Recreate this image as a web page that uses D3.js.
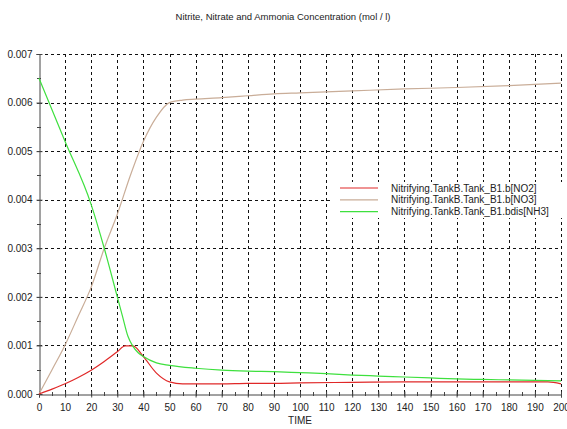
<!DOCTYPE html>
<html>
<head>
<meta charset="utf-8">
<script src="https://cdn.jsdelivr.net/npm/d3@7"></script>
<style>
  body { margin: 0; background: #fff; }
  svg { display: block; font-family: "Liberation Sans", Arial, sans-serif; }
</style>
</head>
<body>
<div id="container"></div>
<script>
/* CONSTANTS AND GLOBALS */
const width = 567,
  height = 429,
  margin = { top: 54, bottom: 35, left: 39, right: 6 };

/* DATA */
const titleText = "Nitrite, Nitrate and Ammonia Concentration (mol / l)";
const xLabel = "TIME";
const seriesNames = [
  "Nitrifying.TankB.Tank_B1.b[NO2]",
  "Nitrifying.TankB.Tank_B1.b[NO3]",
  "Nitrifying.TankB.Tank_B1.bdis[NH3]"
];
const seriesColors = ["#e02828", "#c9ad98", "#3ee03e"];

const no2 = [
  [0, 0], [5, 0.0001], [10, 0.00021], [15, 0.00034], [20, 0.00049], [25, 0.00067],
  [30, 0.00087], [33, 0.00099], [36, 0.00099], [40, 0.00077], [45, 0.00043],
  [50, 0.00025], [55, 0.00021], [60, 0.00021], [70, 0.00021], [80, 0.00022],
  [90, 0.00022], [100, 0.00023], [120, 0.00024], [140, 0.00025], [160, 0.00025],
  [180, 0.00025], [195, 0.00025], [200, 0.00021]
];
const no3 = [
  [0, 0], [5, 0.0005], [10, 0.00101], [15, 0.0016], [20, 0.0022], [25, 0.0030],
  [30, 0.0037], [35, 0.0045], [40, 0.0052], [45, 0.0057], [50, 0.0060],
  [55, 0.00605], [60, 0.00607], [70, 0.0061], [80, 0.00614], [90, 0.00618],
  [100, 0.0062], [120, 0.00624], [140, 0.00628], [160, 0.00631], [180, 0.00635],
  [200, 0.0064]
];
const nh3 = [
  [0, 0.0065], [10, 0.0052], [20, 0.0039], [25, 0.0030], [30, 0.0020],
  [32, 0.0016], [34, 0.0012], [36, 0.00098], [38, 0.00085], [40, 0.00077],
  [45, 0.00064], [50, 0.00059], [60, 0.00053], [70, 0.00049], [80, 0.00047],
  [90, 0.00046], [100, 0.00044], [110, 0.00042], [120, 0.00039], [130, 0.00037],
  [140, 0.00035], [150, 0.00033], [160, 0.00031], [170, 0.0003], [180, 0.00029],
  [190, 0.00028], [200, 0.00027]
];
const seriesData = [no2, no3, nh3];

const xTicks = d3.range(0, 201, 10);
const xMinor = d3.range(0, 201, 5);
const yTicks = d3.range(0, 8).map(d => d / 1000);
const yMinor = d3.range(0, 15).map(d => d / 2000);

/* SCALES */
const xScale = d3.scaleLinear()
  .domain([0, 200])
  .range([margin.left, width - margin.right]);

const yScale = d3.scaleLinear()
  .domain([0, 0.007])
  .range([height - margin.bottom, margin.top]);

/* SVG */
const svg = d3.select("#container")
  .append("svg")
  .attr("width", width)
  .attr("height", height);

svg.append("text")
  .attr("x", 283)
  .attr("y", 20)
  .attr("text-anchor", "middle")
  .attr("font-size", 9.5)
  .attr("fill", "#222")
  .text(titleText);

// grid
const grid = svg.append("g");
grid.selectAll(".hg")
  .data(yTicks.slice(1))
  .join("line")
  .attr("x1", xScale(0)).attr("x2", xScale(200))
  .attr("y1", d => Math.round(yScale(d)) + 0.5).attr("y2", d => Math.round(yScale(d)) + 0.5)
  .attr("stroke", "#111")
  .attr("stroke-dasharray", "3,3");
grid.selectAll(".vg")
  .data(xTicks.slice(1))
  .join("line")
  .attr("x1", d => Math.round(xScale(d)) + 0.5).attr("x2", d => Math.round(xScale(d)) + 0.5)
  .attr("y1", yScale(0.007)).attr("y2", yScale(0))
  .attr("stroke", "#111")
  .attr("stroke-dasharray", "3,3");

// axes
const xAxis = d3.axisBottom(xScale).tickValues(xTicks).tickSize(3).tickPadding(6);
const yAxis = d3.axisLeft(yScale).tickValues(yTicks).tickSize(3).tickPadding(4)
  .tickFormat(d3.format(".3f"));

const gx = svg.append("g")
  .attr("transform", `translate(0,${Math.round(yScale(0)) + 0.5})`)
  .call(xAxis);
const gy = svg.append("g")
  .attr("transform", `translate(${Math.round(xScale(0)) + 0.5},0)`)
  .call(yAxis);

[gx, gy].forEach(g => {
  g.select(".domain").attr("stroke", "#444");
  g.selectAll(".tick line").attr("stroke", "#444");
  g.selectAll("text").attr("font-size", 10).attr("fill", "#222")
    .attr("font-family", "Liberation Sans, Arial, sans-serif");
});
gx.selectAll(".tick line").attr("y1", -3).attr("y2", 3);
gy.selectAll(".tick line").attr("x1", -3).attr("x2", 3);

// minor ticks
svg.append("g").selectAll("line")
  .data(xMinor)
  .join("line")
  .attr("x1", d => Math.round(xScale(d)) + 0.5).attr("x2", d => Math.round(xScale(d)) + 0.5)
  .attr("y1", yScale(0) - 2).attr("y2", yScale(0) + 2)
  .attr("stroke", "#444");
svg.append("g").selectAll("line")
  .data(yMinor)
  .join("line")
  .attr("x1", xScale(0) - 2).attr("x2", xScale(0) + 2)
  .attr("y1", d => Math.round(yScale(d)) + 0.5).attr("y2", d => Math.round(yScale(d)) + 0.5)
  .attr("stroke", "#444");

svg.append("text")
  .attr("x", 300)
  .attr("y", 424)
  .attr("text-anchor", "middle")
  .attr("font-size", 10)
  .attr("fill", "#222")
  .text(xLabel);

// lines
const line = d3.line()
  .x(d => xScale(d[0]))
  .y(d => yScale(d[1]))
  .curve(d3.curveMonotoneX);

[1, 0, 2].forEach(i => {
  svg.append("path")
    .datum(seriesData[i])
    .attr("fill", "none")
    .attr("stroke", seriesColors[i])
    .attr("stroke-width", 1.2)
    .attr("d", line);
});

// legend
const legend = svg.append("g");
legend.append("rect")
  .attr("x", 333).attr("y", 182)
  .attr("width", 232).attr("height", 36)
  .attr("fill", "#fff");
seriesNames.forEach((name, i) => {
  const y = 188 + i * 11.8;
  legend.append("line")
    .attr("x1", 340).attr("x2", 378)
    .attr("y1", y).attr("y2", y)
    .attr("stroke", seriesColors[i])
    .attr("stroke-width", 1.2);
  legend.append("text")
    .attr("x", 391).attr("y", y + 3.5)
    .attr("font-size", 10)
    .attr("fill", "#222")
    .text(name);
});
</script>
</body>
</html>
